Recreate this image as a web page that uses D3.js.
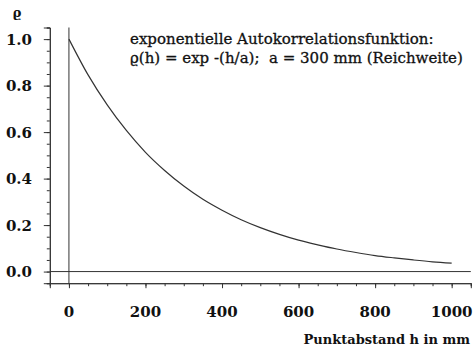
<!DOCTYPE html>
<html>
<head>
<meta charset="utf-8">
<script src="https://cdn.jsdelivr.net/npm/d3@7.9.0/dist/d3.min.js"></script>
<style>
  body { margin: 0; background: #fff; }
  svg text { fill: #111; white-space: pre; font-family: "DejaVu Serif", serif; }
</style>
</head>
<body>
<svg id="chart" width="474" height="351"></svg>
<script>
// values
const distances = [0, 50, 100, 150, 200, 250, 300, 350, 400, 450, 500,
  550, 600, 650, 700, 750, 800, 850, 900, 950, 1000];
const rho = [1.0, 0.846, 0.717, 0.607, 0.513, 0.435, 0.368, 0.311, 0.264, 0.223, 0.189,
  0.16, 0.135, 0.115, 0.097, 0.082, 0.069, 0.059, 0.05, 0.042, 0.036];
const xTicks = [0, 200, 400, 600, 800, 1000];
const yTicks = [0.0, 0.2, 0.4, 0.6, 0.8, 1.0];
const titleLines = ['exponentielle Autokorrelationsfunktion:',
  '\u03f1(h) = exp -(h/a);  a = 300 mm (Reichweite)'];

const svg = d3.select('#chart');
const x = d3.scaleLinear().domain([-50, 1050]).range([49.8, 470.8]);
const y = d3.scaleLinear().domain([-0.05, 1.05]).range([283.2, 27.5]);

// y axis at h = -50
const yAxis = d3.axisLeft(y).tickValues(yTicks).tickSize(6).tickFormat('');
svg.append('g').attr('transform', `translate(${x(-50)},0)`).call(yAxis);
const yMinor = d3.axisLeft(y).tickValues(d3.range(-0.05, 1.06, 0.05)).tickSize(3).tickFormat('');
svg.append('g').attr('transform', `translate(${x(-50)},0)`).call(yMinor);

// x axis at rho = -0.05
const xAxis = d3.axisBottom(x).tickValues(xTicks).tickSize(5).tickFormat('');
svg.append('g').attr('transform', `translate(0,${y(-0.05)})`).call(xAxis);
const xMinor = d3.axisBottom(x).tickValues(d3.range(-50, 1051, 50)).tickSize(3).tickFormat('');
svg.append('g').attr('transform', `translate(0,${y(-0.05)})`).call(xMinor);

svg.selectAll('.domain').attr('stroke', '#333').attr('stroke-width', 1);
svg.selectAll('.tick line').attr('stroke', '#333');

// zero lines
svg.append('line')
  .attr('x1', x(-50)).attr('x2', x(1050))
  .attr('y1', y(0)).attr('y2', y(0))
  .attr('stroke', '#333');
svg.append('line')
  .attr('x1', x(0)).attr('x2', x(0))
  .attr('y1', y(1.05)).attr('y2', y(-0.05))
  .attr('stroke', '#333');

// tick labels
svg.selectAll('.ylab').data(yTicks).join('text')
  .attr('x', 32).attr('y', d => y(d) + 5.5)
  .attr('text-anchor', 'end')
  .attr('font-size', 15).attr('font-weight', 'bold')
  .text(d => d.toFixed(1));

svg.selectAll('.xlab').data(xTicks).join('text')
  .attr('x', d => x(d)).attr('y', 317)
  .attr('text-anchor', 'middle')
  .attr('font-size', 15).attr('font-weight', 'bold')
  .text(d => d);

svg.append('text')
  .attr('x', 17).attr('y', 17)
  .attr('text-anchor', 'middle')
  .attr('font-size', 13).attr('font-weight', 'bold')
  .text('\u03f1');

svg.append('text')
  .attr('x', 470).attr('y', 344)
  .attr('text-anchor', 'end')
  .attr('font-size', 13).attr('font-weight', 'bold')
  .text('Punktabstand h in mm');

svg.selectAll('.title').data(titleLines).join('text')
  .attr('x', 130).attr('y', (d, i) => 44 + i * 19)
  .attr('font-size', 15)
  .attr('stroke', '#111').attr('stroke-width', 0.3)
  .text(d => d);

// curve
const line = d3.line()
  .x((d, i) => x(distances[i]))
  .y(d => y(d))
  .curve(d3.curveMonotoneX);
svg.append('path')
  .datum(rho)
  .attr('d', line)
  .attr('fill', 'none')
  .attr('stroke', '#333')
  .attr('stroke-width', 1.2);
</script>
</body>
</html>
